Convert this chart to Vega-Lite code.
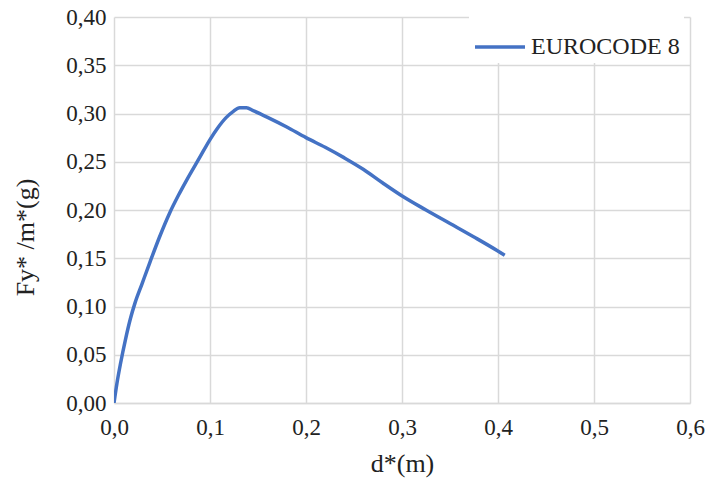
{
  "$schema": "https://vega.github.io/schema/vega-lite/v6.json",
  "width": 576,
  "height": 386,
  "autosize": "none",
  "padding": {"left": 114, "top": 17, "right": 18, "bottom": 85},
  "background": "white",
  "config": {
    "font": "Liberation Serif",
    "view": {"stroke": null}
  },
  "data": {
    "values": [
      {"d": 0.0, "f": 0.0, "s": "EUROCODE 8"},
      {"d": 0.003, "f": 0.02, "s": "EUROCODE 8"},
      {"d": 0.007, "f": 0.042, "s": "EUROCODE 8"},
      {"d": 0.012, "f": 0.066, "s": "EUROCODE 8"},
      {"d": 0.017, "f": 0.087, "s": "EUROCODE 8"},
      {"d": 0.022, "f": 0.104, "s": "EUROCODE 8"},
      {"d": 0.029, "f": 0.123, "s": "EUROCODE 8"},
      {"d": 0.0375, "f": 0.146, "s": "EUROCODE 8"},
      {"d": 0.047, "f": 0.171, "s": "EUROCODE 8"},
      {"d": 0.058, "f": 0.197, "s": "EUROCODE 8"},
      {"d": 0.067, "f": 0.215, "s": "EUROCODE 8"},
      {"d": 0.0757, "f": 0.231, "s": "EUROCODE 8"},
      {"d": 0.0896, "f": 0.255, "s": "EUROCODE 8"},
      {"d": 0.1, "f": 0.273, "s": "EUROCODE 8"},
      {"d": 0.108, "f": 0.285, "s": "EUROCODE 8"},
      {"d": 0.117, "f": 0.296, "s": "EUROCODE 8"},
      {"d": 0.124, "f": 0.302, "s": "EUROCODE 8"},
      {"d": 0.131, "f": 0.306, "s": "EUROCODE 8"},
      {"d": 0.138, "f": 0.306, "s": "EUROCODE 8"},
      {"d": 0.145, "f": 0.303, "s": "EUROCODE 8"},
      {"d": 0.16, "f": 0.296, "s": "EUROCODE 8"},
      {"d": 0.18, "f": 0.286, "s": "EUROCODE 8"},
      {"d": 0.2, "f": 0.275, "s": "EUROCODE 8"},
      {"d": 0.22, "f": 0.265, "s": "EUROCODE 8"},
      {"d": 0.24, "f": 0.254, "s": "EUROCODE 8"},
      {"d": 0.26, "f": 0.242, "s": "EUROCODE 8"},
      {"d": 0.28, "f": 0.228, "s": "EUROCODE 8"},
      {"d": 0.301, "f": 0.214, "s": "EUROCODE 8"},
      {"d": 0.325, "f": 0.2, "s": "EUROCODE 8"},
      {"d": 0.35, "f": 0.186, "s": "EUROCODE 8"},
      {"d": 0.375, "f": 0.172, "s": "EUROCODE 8"},
      {"d": 0.399, "f": 0.158, "s": "EUROCODE 8"},
      {"d": 0.407, "f": 0.153, "s": "EUROCODE 8"}
    ]
  },
  "mark": {"type": "line", "strokeWidth": 3.5, "clip": true, "interpolate": "monotone"},
  "encoding": {
    "x": {
      "field": "d",
      "type": "quantitative",
      "scale": {"domain": [0, 0.6], "nice": false},
      "axis": {
        "title": "d*(m)",
        "values": [0, 0.1, 0.2, 0.3, 0.4, 0.5, 0.6],
        "labelExpr": "replace(format(datum.value, '.1f'), '.', ',')",
        "labelFont": "Liberation Serif",
        "labelFontSize": 23,
        "labelColor": "#222222",
        "labelPadding": 13,
        "labelFlush": false,
        "titleFont": "Liberation Serif",
        "titleFontSize": 26,
        "titleFontWeight": "normal",
        "titleColor": "#222222",
        "titlePadding": 11,
        "grid": true,
        "gridColor": "#d9d9d9",
        "gridWidth": 1.5,
        "domain": true,
        "domainColor": "#d9d9d9",
        "domainWidth": 1.5,
        "ticks": false
      }
    },
    "y": {
      "field": "f",
      "type": "quantitative",
      "scale": {"domain": [0, 0.4], "nice": false},
      "axis": {
        "title": "Fy* /m*(g)",
        "values": [0, 0.05, 0.1, 0.15, 0.2, 0.25, 0.3, 0.35, 0.4],
        "labelExpr": "replace(format(datum.value, '.2f'), '.', ',')",
        "labelFont": "Liberation Serif",
        "labelFontSize": 23,
        "labelColor": "#222222",
        "labelPadding": 8,
        "labelFlush": false,
        "titleFont": "Liberation Serif",
        "titleFontSize": 26,
        "titleFontWeight": "normal",
        "titleColor": "#222222",
        "titlePadding": 27,
        "titleY": 220,
        "grid": true,
        "gridColor": "#d9d9d9",
        "gridWidth": 1.5,
        "domain": false,
        "ticks": false
      }
    },
    "color": {
      "field": "s",
      "type": "nominal",
      "scale": {"range": ["#4472C4"]},
      "legend": {
        "title": null,
        "orient": "none",
        "legendX": 355,
        "legendY": -1,
        "fillColor": "white",
        "padding": 4,
        "symbolType": "stroke",
        "symbolSize": 2500,
        "symbolStrokeWidth": 3.5,
        "labelFont": "Liberation Serif",
        "labelFontSize": 24,
        "labelColor": "#222222",
        "labelLimit": 300
      }
    }
  }
}
